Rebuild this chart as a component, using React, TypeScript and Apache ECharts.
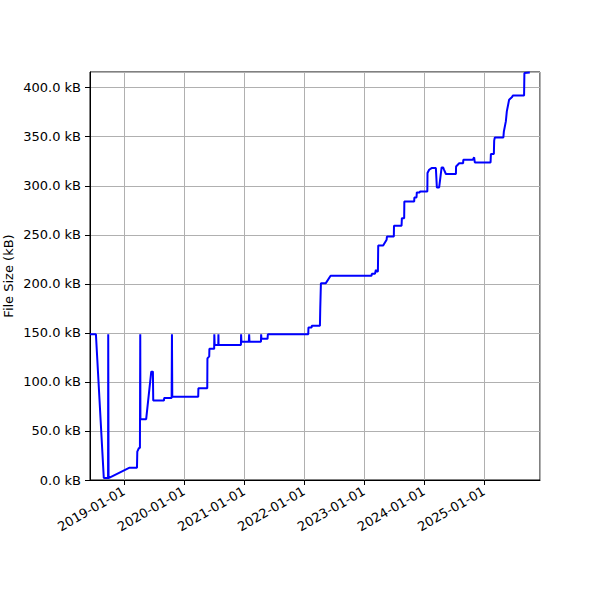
import React, { useEffect, useRef } from "react";
import * as echarts from "echarts";

const dates: string[] = [
  "2018-06-08", "2018-07-14", "2018-08-31", "2018-09-26", "2018-09-27", "2018-09-29",
  "2019-02-04", "2019-03-21", "2019-03-23", "2019-04-02", "2019-04-08", "2019-04-10",
  "2019-04-11", "2019-05-16", "2019-06-16", "2019-06-26", "2019-06-28", "2019-09-01",
  "2019-09-03", "2019-10-18", "2019-10-20", "2019-10-22", "2020-03-28", "2020-03-29",
  "2020-05-22", "2020-05-23", "2020-06-03", "2020-06-04", "2020-07-03", "2020-07-04",
  "2020-07-06", "2020-07-28", "2020-07-29", "2020-07-30", "2020-12-13", "2020-12-14",
  "2020-12-16", "2021-01-30", "2021-02-01", "2021-02-03", "2021-04-14", "2021-04-15",
  "2021-04-17", "2021-05-24", "2021-05-26", "2022-01-27", "2022-01-28", "2022-02-16",
  "2022-02-18", "2022-04-08", "2022-04-10", "2022-04-14", "2022-05-14", "2022-06-12",
  "2023-02-16", "2023-02-18", "2023-03-09", "2023-03-15", "2023-03-18", "2023-03-27",
  "2023-03-29", "2023-04-28", "2023-05-19", "2023-05-21", "2023-07-02", "2023-07-03",
  "2023-08-18", "2023-08-20", "2023-09-03", "2023-09-04", "2023-11-03", "2023-11-04",
  "2023-11-17", "2023-11-19", "2023-12-07", "2023-12-08", "2024-01-22", "2024-01-23",
  "2024-02-02", "2024-02-17", "2024-03-14", "2024-03-20", "2024-04-03", "2024-04-18",
  "2024-04-27", "2024-05-03", "2024-05-14", "2024-07-14", "2024-07-15", "2024-08-03",
  "2024-08-27", "2024-08-28", "2024-10-25", "2024-11-02", "2024-11-06", "2025-02-10",
  "2025-02-12", "2025-03-02", "2025-03-04", "2025-03-08", "2025-04-29", "2025-05-02",
  "2025-05-14", "2025-05-20", "2025-06-03", "2025-06-21", "2025-06-26", "2025-09-02",
  "2025-09-04", "2025-10-07",
];

const sizesKB: number[] = [
  148.6, 148.6, 2, 2, 148.6, 2,
  12.6, 12.6, 29, 32.6, 32.6, 148.6,
  62, 62, 110.5, 110.5, 81, 81,
  83.7, 83.7, 148.6, 85, 85, 93.6,
  93.6, 124, 126, 133.7, 133.7, 148.6,
  137.7, 137.7, 148.6, 137.7, 137.7, 148.6,
  141, 141, 148.6, 141, 141, 148.6,
  143.9, 143.9, 148.6, 148.6, 155.4, 155.4,
  157.4, 157.4, 175.2, 200.7, 200.7, 208.2,
  208.2, 210.2, 210.2, 214.3, 212.5, 212.5,
  239, 239, 244.9, 248.3, 248.3, 259.2,
  259.2, 267, 267, 284, 284, 288,
  288, 293.2, 293.2, 294.2, 294.2, 313,
  316.3, 318, 318, 298.3, 298.3, 318.7,
  318.7, 316.3, 312, 312, 319.7, 323,
  323, 326.5, 326.5, 329, 323.8, 323.8,
  332.3, 332.3, 346, 349.3, 349.3, 355.4,
  365.6, 375.8, 387.8, 390.5, 392.1, 392.1,
  415, 415.6,
];

const xMin = "2018-06-08";
const xMax = "2025-12-08";
const yMax = 416;
const yTickStep = 50;
const yAxisTitle = "File Size (kB)";

const FONT = "DejaVu Sans";
const YEAR_MS = 365.25 * 24 * 3600 * 1000;

export default function App() {
  const ref = useRef<HTMLDivElement>(null);
  useEffect(() => {
    if (!ref.current) return;
    const chart = echarts.init(ref.current, null, { renderer: "svg" });
    chart.setOption({
      animation: false,
      backgroundColor: "#ffffff",
      grid: {
        left: 90,
        top: 72,
        right: 60,
        bottom: 120,
        containLabel: false,
        outerBoundsMode: "none",
        show: true,
        borderColor: "#000000",
        borderWidth: 1,
        backgroundColor: "transparent",
      },
      xAxis: {
        type: "time",
        min: xMin,
        max: xMax,
        minInterval: YEAR_MS * 0.99,
        maxInterval: YEAR_MS * 1.01,
        axisLine: { show: true, lineStyle: { color: "#000", width: 1 } },
        axisTick: { show: true, length: 5, lineStyle: { color: "#000" } },
        splitLine: { show: true, lineStyle: { color: "#b0b0b0", width: 1 } },
        minorTick: { show: false },
        axisLabel: {
          rotate: 30,
          margin: 10,
          color: "#000",
          fontSize: 13,
          fontFamily: FONT,
          hideOverlap: false,
          showMinLabel: false,
          showMaxLabel: false,
          formatter: (v: number) => echarts.time.format(v, "{yyyy}-{MM}-{dd}", false),
        },
      },
      yAxis: {
        type: "value",
        min: 0,
        max: yMax,
        interval: yTickStep,
        name: yAxisTitle,
        nameLocation: "middle",
        nameGap: 75,
        nameMoveOverlap: false,
        nameTextStyle: { color: "#000", fontSize: 13, fontFamily: FONT },
        axisLine: { show: true, lineStyle: { color: "#000", width: 1 } },
        axisTick: { show: true, length: 5, lineStyle: { color: "#000" } },
        splitLine: { show: true, lineStyle: { color: "#b0b0b0", width: 1 } },
        axisLabel: {
          margin: 9,
          color: "#000",
          fontSize: 13,
          fontFamily: FONT,
          showMaxLabel: false,
          formatter: (v: number) => (v > yMax - 1 ? "" : `${v.toFixed(1)} kB`),
        },
      },
      series: [
        {
          type: "line",
          data: dates.map((d, i) => [d, sizesKB[i]]),
          showSymbol: false,
          symbol: "none",
          lineStyle: { color: "#0000ff", width: 2 },
          clip: true,
        },
      ],
    });
    return () => chart.dispose();
  }, []);
  return (
    <div
      ref={ref}
      style={{ width: 600, height: 600, position: "absolute", left: 0, top: 0 }}
    />
  );
}
